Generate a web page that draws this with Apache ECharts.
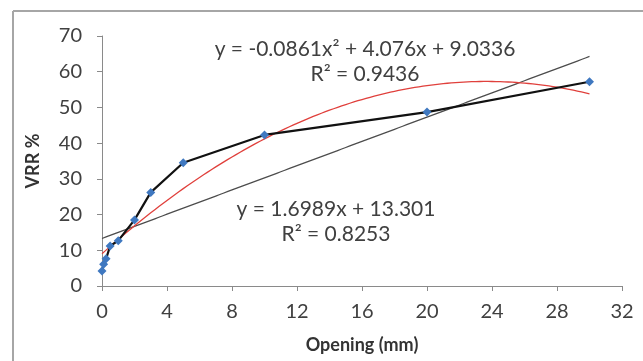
<!DOCTYPE html>
<html><head><meta charset="utf-8">
<script src="https://cdn.jsdelivr.net/npm/echarts@6/dist/echarts.min.js"></script>
<style>html,body{margin:0;padding:0;background:#fff}#c{width:643px;height:361px}</style>
</head><body><div id="c"></div>
<script>
var openingMm = [0, 0.1, 0.25, 0.5, 1, 2, 3, 5, 10, 20, 30];
var vrrPct = [4.2, 6.1, 7.6, 11.2, 12.7, 18.5, 26.2, 34.5, 42.3, 48.7, 57.2];
var linCoef = [13.301, 1.6989];          // c0, c1
var polyCoef = [9.0336, 4.076, -0.0861]; // c0, c1, c2
var trendRange = [0, 30];
var xTicks = {min: 0, max: 32, step: 4};
var yTicks = {min: 0, max: 70, step: 10};

function trend(coef) {
  var pts = [];
  for (var i = 0; i <= 120; i++) {
    var x = trendRange[0] + (trendRange[1] - trendRange[0]) * i / 120;
    var y = 0;
    for (var k = 0; k < coef.length; k++) y += coef[k] * Math.pow(x, k);
    pts.push([x, y]);
  }
  return pts;
}
var FONT = 'Lato';
var TXT = '21px Lato';
var chart = echarts.init(document.getElementById('c'));
chart.setOption({
  animation: false,
  backgroundColor: '#fff',
  grid: {left: 102, right: 21, top: 36, bottom: 75},
  xAxis: {
    type: 'value', min: xTicks.min, max: xTicks.max, interval: xTicks.step,
    name: 'Opening (mm)', nameLocation: 'middle', nameGap: 50,
    nameTextStyle: {fontFamily: FONT, fontWeight: 'bold', fontSize: 18, color: '#333'},
    axisLine: {lineStyle: {color: '#8a8a8a', width: 1}},
    axisTick: {show: true, length: 5, lineStyle: {color: '#8a8a8a'}},
    axisLabel: {fontFamily: FONT, fontSize: 20, color: '#404040', margin: 16},
    splitLine: {show: false}
  },
  yAxis: {
    type: 'value', min: yTicks.min, max: yTicks.max, interval: yTicks.step,
    name: 'VRR %', nameLocation: 'middle', nameGap: 60, nameRotate: 90,
    nameTextStyle: {fontFamily: FONT, fontWeight: 'bold', fontSize: 18, color: '#333'},
    axisLine: {show: true, lineStyle: {color: '#8a8a8a', width: 1}},
    axisTick: {show: true, length: 5, lineStyle: {color: '#8a8a8a'}},
    axisLabel: {fontFamily: FONT, fontSize: 20, color: '#404040', margin: 20},
    splitLine: {show: false}
  },
  graphic: [
    {type: 'line', shape: {x1: 13, y1: 11, x2: 643, y2: 11}, style: {stroke: '#a6a6a6', lineWidth: 2}},
    {type: 'line', shape: {x1: 13, y1: 11, x2: 13, y2: 361}, style: {stroke: '#a6a6a6', lineWidth: 2}},
    {type: 'text', x: 365, y: 49, style: {text: 'y = -0.0861x² + 4.076x + 9.0336', font: TXT, fill: '#404040', textAlign: 'center', textVerticalAlign: 'middle'}},
    {type: 'text', x: 365, y: 74, style: {text: 'R² = 0.9436', font: TXT, fill: '#404040', textAlign: 'center', textVerticalAlign: 'middle'}},
    {type: 'text', x: 336, y: 209, style: {text: 'y = 1.6989x + 13.301', font: TXT, fill: '#404040', textAlign: 'center', textVerticalAlign: 'middle'}},
    {type: 'text', x: 336, y: 234, style: {text: 'R² = 0.8253', font: TXT, fill: '#404040', textAlign: 'center', textVerticalAlign: 'middle'}}
  ],
  series: [
    {type: 'line', data: trend(linCoef), showSymbol: false, symbol: 'none', z: 2,
     lineStyle: {color: '#4d4d4d', width: 1.3}},
    {type: 'line', data: trend(polyCoef), showSymbol: false, symbol: 'none', z: 2,
     lineStyle: {color: '#e0403c', width: 1.3}},
    {type: 'line', data: openingMm.map(function (x, i) { return [x, vrrPct[i]]; }), z: 3,
     symbol: 'diamond', symbolSize: 9,
     itemStyle: {color: '#3f78c0'},
     lineStyle: {color: '#111', width: 2.2}}
  ]
});
</script></body></html>
